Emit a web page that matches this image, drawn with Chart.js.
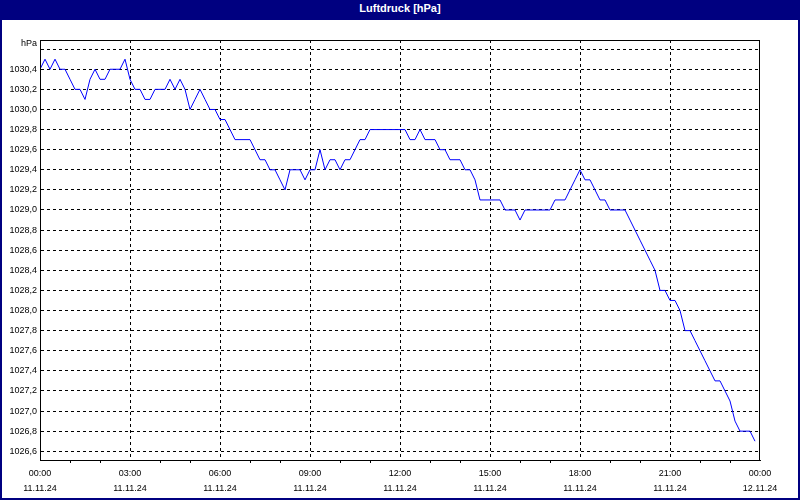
<!DOCTYPE html>
<html>
<head>
<meta charset="utf-8">
<script src="https://cdn.jsdelivr.net/npm/chart.js"></script>
<style>
  body { margin: 0; background: #fff; }
  #frame {
    position: relative;
    width: 800px;
    height: 500px;
    box-sizing: border-box;
    border: 2px solid #000080;
    background: #fff;
  }
  #title {
    height: 18px;
    line-height: 17px;
    background: #000080;
    color: #fff;
    font: bold 11px "Liberation Sans", Arial, sans-serif;
    text-align: center;
  }
  #chart { display: block; }
</style>
</head>
<body>
<div id="frame">
  <div id="title">Luftdruck [hPa]</div>
  <canvas id="chart" width="796" height="478"></canvas>
</div>
<script>
// Luftdruck, 10-Minuten-Werte ab 11.11.24 00:00
const STEP_MIN = 10;
const pressure = [
  1030.4, 1030.5, 1030.4, 1030.5, 1030.4, 1030.4,
  1030.3, 1030.2, 1030.2, 1030.1, 1030.3, 1030.4,
  1030.3, 1030.3, 1030.4, 1030.4, 1030.4, 1030.5,
  1030.3, 1030.2, 1030.2, 1030.1, 1030.1, 1030.2,
  1030.2, 1030.2, 1030.3, 1030.2, 1030.3, 1030.2,
  1030.0, 1030.1, 1030.2, 1030.1, 1030.0, 1030.0,
  1029.9, 1029.9, 1029.8, 1029.7, 1029.7, 1029.7,
  1029.7, 1029.6, 1029.5, 1029.5, 1029.4, 1029.4,
  1029.3, 1029.2, 1029.4, 1029.4, 1029.4, 1029.3,
  1029.4, 1029.4, 1029.6, 1029.4, 1029.5, 1029.5,
  1029.4, 1029.5, 1029.5, 1029.6, 1029.7, 1029.7,
  1029.8, 1029.8, 1029.8, 1029.8, 1029.8, 1029.8,
  1029.8, 1029.8, 1029.7, 1029.7, 1029.8, 1029.7,
  1029.7, 1029.7, 1029.6, 1029.6, 1029.5, 1029.5,
  1029.5, 1029.4, 1029.4, 1029.3, 1029.1, 1029.1,
  1029.1, 1029.1, 1029.1, 1029.0, 1029.0, 1029.0,
  1028.9, 1029.0, 1029.0, 1029.0, 1029.0, 1029.0,
  1029.0, 1029.1, 1029.1, 1029.1, 1029.2, 1029.3,
  1029.4, 1029.3, 1029.3, 1029.2, 1029.1, 1029.1,
  1029.0, 1029.0, 1029.0, 1029.0, 1028.9, 1028.8,
  1028.7, 1028.6, 1028.5, 1028.4, 1028.2, 1028.2,
  1028.1, 1028.1, 1028.0, 1027.8, 1027.8, 1027.7,
  1027.6, 1027.5, 1027.4, 1027.3, 1027.3, 1027.2,
  1027.1, 1026.9, 1026.8, 1026.8, 1026.8, 1026.7,
];

const xTimes = ["00:00", "03:00", "06:00", "09:00", "12:00", "15:00", "18:00", "21:00", "00:00"];
const xDates = ["11.11.24", "11.11.24", "11.11.24", "11.11.24", "11.11.24", "11.11.24", "11.11.24", "11.11.24", "12.11.24"];
const yTicks = [
  1026.6, 1026.8, 1027.0, 1027.2, 1027.4, 1027.6, 1027.8, 1028.0, 1028.2, 1028.4, 1028.6,
  1028.8, 1029.0, 1029.2, 1029.4, 1029.6, 1029.8, 1030.0, 1030.2, 1030.4, 1030.6,
];
const yUnit = "hPa";

const MAJOR = 180; // 3 Stunden
const tickFont = { family: "'Liberation Sans', Arial, sans-serif", size: 9 };

// oberer und rechter Rahmen
const frameBox = {
  id: "frameBox",
  afterDraw(chart) {
    const { left, top, right, bottom } = chart.chartArea;
    const ctx = chart.ctx;
    ctx.save();
    ctx.strokeStyle = "#000";
    ctx.lineWidth = 1;
    ctx.strokeRect(left + 0.5, top + 0.5, right - left - 1, bottom - top);
    ctx.restore();
  },
};

function isInnerMajor(v) {
  return v % MAJOR === 0 && v > 0 && v < 1440;
}

new Chart(document.getElementById("chart"), {
  type: "line",
  data: {
    datasets: [{
      data: pressure.map((v, i) => ({ x: i * STEP_MIN, y: v })),
      borderColor: "#0000ff",
      borderWidth: 1,
      pointRadius: 0,
      tension: 0,
      fill: false,
    }],
  },
  options: {
    responsive: false,
    animation: false,
    layout: { padding: { top: 20, right: 38, bottom: 0, left: 0 } },
    plugins: {
      legend: { display: false },
      tooltip: { enabled: false },
    },
    scales: {
      x: {
        type: "linear",
        min: 0,
        max: 1440,
        afterBuildTicks(scale) {
          const ticks = [];
          for (let m = 0; m <= 1440; m += 60) ticks.push({ value: m });
          scale.ticks = ticks;
        },
        afterFit(scale) {
          scale.height = 38;
          scale.paddingLeft = 0;
          scale.paddingRight = 0;
        },
        ticks: {
          autoSkip: false,
          maxRotation: 0,
          padding: 3,
          color: "#000",
          font: { ...tickFont, lineHeight: 1.67 },
          callback: (value) => value % MAJOR === 0 ? [xTimes[value / MAJOR], xDates[value / MAJOR]] : "",
        },
        grid: {
          color: (ctx) => ctx.tick && isInnerMajor(ctx.tick.value) ? "#000" : "transparent",
          tickColor: (ctx) => ctx.tick && ctx.tick.value % MAJOR === 0 ? "transparent" : "#000",
          tickLength: 3,
          lineWidth: 1,
        },
        border: { color: "#000", width: 1, dash: [3, 3] },
      },
      y: {
        min: 1026.513,
        max: 1030.691,
        afterBuildTicks(scale) {
          scale.ticks = yTicks.map(v => ({ value: v }));
        },
        afterFit(scale) {
          scale.width = 38;
        },
        ticks: {
          autoSkip: false,
          padding: 3,
          color: "#000",
          font: tickFont,
          callback: (value) => Math.abs(value - 1030.6) < 0.01 ? [yUnit, ""] : value.toFixed(1).replace(".", ","),
        },
        grid: {
          color: "#000",
          lineWidth: 1,
          drawTicks: false,
        },
        border: { color: "#000", width: 1, dash: [3, 3] },
      },
    },
  },
  plugins: [frameBox],
});
</script>
</body>
</html>
